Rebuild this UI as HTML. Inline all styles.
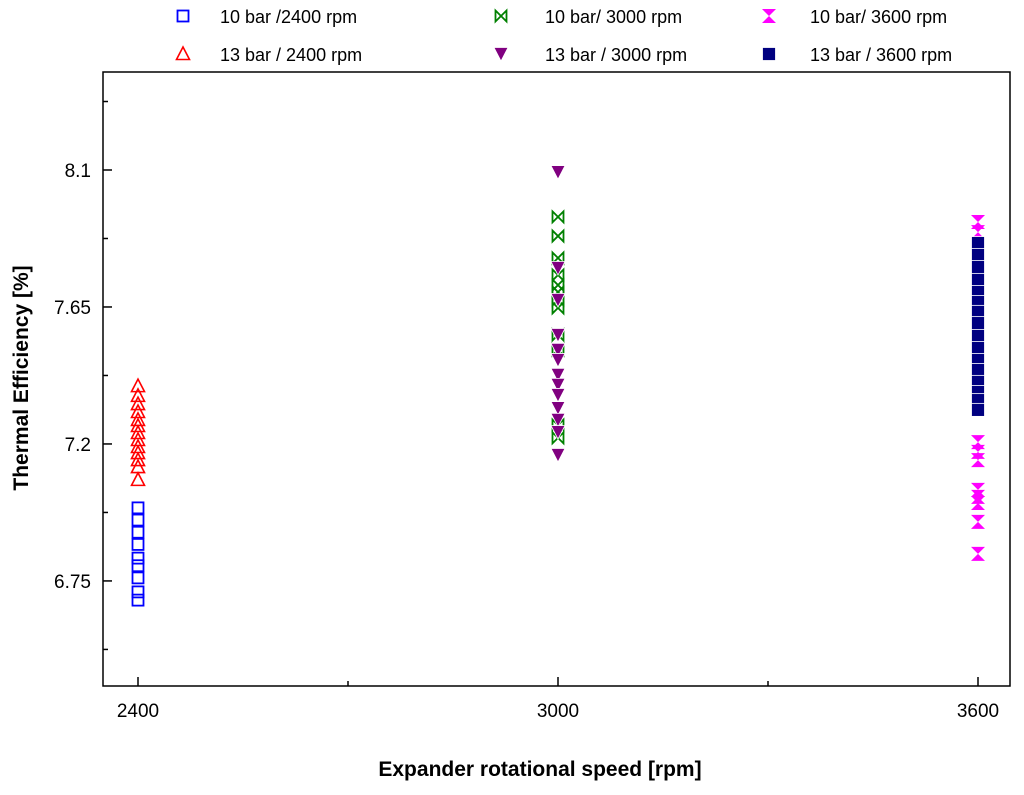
<!DOCTYPE html>
<html><head><meta charset="utf-8"><style>
body{margin:0;background:#fff}
svg text{font-family:"Liberation Sans",Arial,sans-serif}
</style></head><body>
<svg id="c" width="1024" height="790" xmlns="http://www.w3.org/2000/svg"></svg>
<script>
const xTicks=[2400,3000,3600];
const yTicks=[6.75,7.2,7.65,8.1];
const s10_2400=[6.99,6.95,6.91,6.87,6.825,6.80,6.76,6.714,6.687];
const s13_2400=[7.39,7.358,7.331,7.305,7.279,7.259,7.236,7.213,7.19,7.17,7.147,7.124,7.082];
const s10_3000=[7.946,7.883,7.811,7.755,7.722,7.699,7.673,7.647,7.558,7.509,7.262,7.22];
const s13_3000=[8.093,7.778,7.673,7.558,7.509,7.476,7.427,7.394,7.361,7.318,7.279,7.239,7.164];
const s10_3600=[7.929,7.896,7.206,7.174,7.147,7.049,7.026,7.006,6.944,6.839];
const s13_3600=[7.86,7.821,7.781,7.739,7.699,7.666,7.634,7.597,7.555,7.515,7.476,7.443,7.404,7.371,7.344,7.312];
const L=103,R=1010,T=72,B=686;
const X=v=>138+(v-2400)*0.7;
const Y=v=>170-(v-8.1)*304.4;
const svg=document.getElementById('c');
const NS='http://www.w3.org/2000/svg';
function mk(tag,attrs,parent){const e=document.createElementNS(NS,tag);for(const k in attrs)e.setAttribute(k,attrs[k]);(parent||svg).appendChild(e);return e;}
let frame=mk('rect',{x:L,y:T,width:R-L,height:B-T,fill:'none',stroke:'#000','stroke-width':1.5});


xTicks.forEach(v=>{
  let t=mk('line',{x1:X(v),x2:X(v),y1:B,y2:B-9,stroke:'#000','stroke-width':1.5});
  
  
  let l=mk('text',{x:X(v),y:B+31,'font-size':19,'text-anchor':'middle'});l.textContent=v;
  
  
});
[2700,3300].forEach(v=>{
  let t=mk('line',{x1:X(v),x2:X(v),y1:B,y2:B-5,stroke:'#000','stroke-width':1.5});
  
  
});
yTicks.forEach(v=>{
  let t=mk('line',{x1:L,x2:L+9,y1:Y(v),y2:Y(v),stroke:'#000','stroke-width':1.5});
  
  
  let l=mk('text',{x:L-12,y:Y(v)+7,'font-size':19,'text-anchor':'end'});l.textContent=v;
  
  
});
for(let i=0;i<yTicks.length+1;i++){const v=6.525+0.45*i;
  let t=mk('line',{x1:L,x2:L+5,y1:Y(v),y2:Y(v),stroke:'#000','stroke-width':1.5});
  
  
}
let xt=mk('text',{x:540,y:776,'font-size':21,'font-weight':'bold','text-anchor':'middle'});xt.textContent='Expander rotational speed [rpm]';


let yt=mk('text',{x:0,y:0,'font-size':21,'font-weight':'bold','text-anchor':'middle',transform:'translate(28,378) rotate(-90)'});yt.textContent='Thermal Efficiency [%]';


function marker(kind,x,y,p){
  if(kind==='sq')return mk('rect',{x:x-5.5,y:y-5.5,width:11,height:11,fill:'none',stroke:'#0000ff','stroke-width':1.8},p);
  if(kind==='tri')return mk('polygon',{points:`${x},${y-7} ${x-6.5},${y+5.5} ${x+6.5},${y+5.5}`,fill:'none',stroke:'#ff0000','stroke-width':1.6},p);
  if(kind==='bow')return mk('polygon',{points:`${x-5.5},${y-5.5} ${x+5.5},${y+5.5} ${x+5.5},${y-5.5} ${x-5.5},${y+5.5}`,fill:'none',stroke:'#008000','stroke-width':1.8},p);
  if(kind==='dtri')return mk('polygon',{points:`${x-7},${y-6.5} ${x+7},${y-6.5} ${x},${y+7}`,fill:'#800080',stroke:'#fff','stroke-width':0.8},p);
  if(kind==='hour')return mk('polygon',{points:`${x-7},${y-7} ${x+7},${y-7} ${x},${y} ${x+7},${y+7} ${x-7},${y+7} ${x},${y}`,fill:'#ff00ff'},p);
  if(kind==='fsq')return mk('rect',{x:x-6.5,y:y-6.5,width:13,height:13,fill:'#000080',stroke:'#fff','stroke-width':0.8},p);
}
const series=[
 ['10 bar /2400 rpm','sq',2400,s10_2400,'series-10bar-2400'],
 ['13 bar / 2400 rpm','tri',2400,s13_2400,'series-13bar-2400'],
 ['10 bar/ 3000 rpm','bow',3000,s10_3000,'series-10bar-3000'],
 ['13 bar / 3000 rpm','dtri',3000,s13_3000,'series-13bar-3000'],
 ['10 bar/ 3600 rpm','hour',3600,s10_3600,'series-10bar-3600'],
 ['13 bar / 3600 rpm','fsq',3600,s13_3600,'series-13bar-3600']];
series.forEach(s=>{
  const g=mk('g',{});
  
  
  s[3].forEach(v=>{const m=marker(s[1],X(s[2]),Y(v),g);
    
    });
});
const lpos=[[183,220,16],[183,220,54],[501,545,16],[501,545,54],[769,810,16],[769,810,54]];
series.forEach((s,i)=>{
  const [mx,tx,y]=lpos[i];
  const g=mk('g',{});
  
  
  marker(s[1],mx,y,g);
  const t=mk('text',{x:tx,y:y+7,'font-size':18},g);t.textContent=s[0];
});
</script>
</body></html>
